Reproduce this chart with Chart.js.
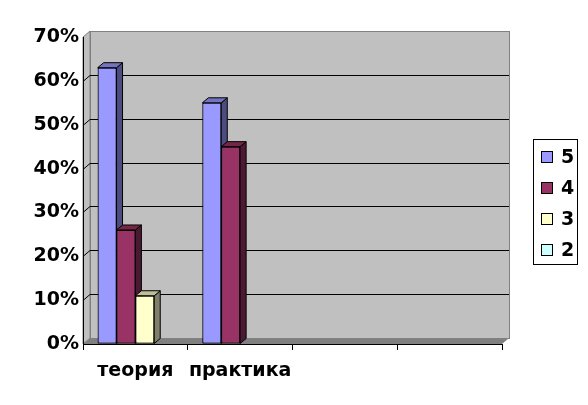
<!DOCTYPE html>
<html>
<head>
<meta charset="utf-8">
<script src="https://cdn.jsdelivr.net/npm/chart.js@4"></script>
<style>
  html, body { margin: 0; padding: 0; background: #fff; }
  #wrap { width: 588px; height: 405px; }
</style>
</head>
<body>
<div id="wrap"><canvas id="chart"></canvas></div>
<script>
const categories = ['теория', 'практика', '', ''];
const seriesNames = ['5', '4', '3', '2'];
const grade5 = [63, 55, 0, 0];
const grade4 = [26, 45, 0, 0];
const grade3 = [11, 0, 0, 0];
const grade2 = [0, 0, 0, 0];
const yMax = 70;
const yStep = 10;

const fronts = ['#9999FF', '#993366', '#FFFFCC', '#CCFFFF'];
const sides  = ['#4C4C80', '#4C1933', '#80806A', '#668080'];
const tops   = ['#7373BF', '#732646', '#BFBF99', '#99BFBF'];
const DX = 7, DY = 6;       // wall depth
const BX = 6, BY = 5;       // bar depth
const FONT = 'DejaVu Sans';

// grey walls, floor and back gridlines
const walls = {
  id: 'walls',
  beforeDraw(chart) {
    const { ctx, chartArea: a, scales: { y } } = chart;
    ctx.save();
    ctx.lineWidth = 1;
    // left wall
    ctx.fillStyle = '#C0C0C0';
    ctx.strokeStyle = '#808080';
    ctx.beginPath();
    ctx.moveTo(a.left, a.top); ctx.lineTo(a.left + DX, a.top - DY);
    ctx.lineTo(a.left + DX, a.bottom - DY); ctx.lineTo(a.left, a.bottom);
    ctx.closePath(); ctx.fill(); ctx.stroke();
    // back wall
    ctx.fillRect(a.left + DX, a.top - DY, a.right - a.left, a.bottom - a.top);
    ctx.strokeRect(a.left + DX + 0.5, a.top - DY + 0.5, a.right - a.left, a.bottom - a.top);
    // floor
    ctx.fillStyle = '#808080';
    ctx.beginPath();
    ctx.moveTo(a.left, a.bottom); ctx.lineTo(a.left + DX, a.bottom - DY);
    ctx.lineTo(a.right + DX, a.bottom - DY); ctx.lineTo(a.right, a.bottom);
    ctx.closePath(); ctx.fill();
    // gridlines
    ctx.strokeStyle = '#000';
    for (let v = yStep; v < yMax; v += yStep) {
      const py = Math.round(y.getPixelForValue(v)) + 0.5;
      ctx.beginPath();
      ctx.moveTo(a.left, py);
      ctx.lineTo(a.left + DX, py - DY);
      ctx.lineTo(a.right + DX, py - DY);
      ctx.stroke();
    }
    ctx.restore();
  }
};

// side and top faces of the bars
const bars3d = {
  id: 'bars3d',
  afterDatasetsDraw(chart) {
    const { ctx } = chart;
    ctx.save();
    ctx.lineWidth = 1;
    ctx.strokeStyle = '#000';
    categories.forEach((c, j) => {
      chart.data.datasets.forEach((ds, i) => {
        if (!(ds.data[j] > 0)) return;
        const bar = chart.getDatasetMeta(i).data[j];
        const { x, y, base, width } = bar.getProps(['x', 'y', 'base', 'width'], true);
        const l = x - width / 2, r = x + width / 2;
        ctx.fillStyle = sides[i];
        ctx.beginPath();
        ctx.moveTo(r, y); ctx.lineTo(r + BX, y - BY);
        ctx.lineTo(r + BX, base - BY); ctx.lineTo(r, base);
        ctx.closePath(); ctx.fill(); ctx.stroke();
        ctx.fillStyle = tops[i];
        ctx.beginPath();
        ctx.moveTo(l, y); ctx.lineTo(l + BX, y - BY);
        ctx.lineTo(r + BX, y - BY); ctx.lineTo(r, y);
        ctx.closePath(); ctx.fill(); ctx.stroke();
        bar.draw(ctx);
      });
    });
    ctx.restore();
  }
};

// boxed legend on the right
const legendBox = {
  id: 'legendBox',
  afterDraw(chart) {
    const { ctx } = chart;
    ctx.save();
    ctx.lineWidth = 1;
    ctx.strokeStyle = '#000';
    ctx.strokeRect(533.5, 139.5, 44, 125);
    ctx.font = 'bold 19px "' + FONT + '"';
    ctx.textBaseline = 'middle';
    ctx.fillStyle = '#000';
    seriesNames.forEach((name, i) => {
      const cy = 157 + i * 31;
      ctx.fillStyle = fronts[i];
      ctx.fillRect(541, cy - 6, 12, 12);
      ctx.strokeRect(541.5, cy - 5.5, 11, 11);
      ctx.fillStyle = '#000';
      ctx.fillText(name, 561, cy + 1);
    });
    ctx.restore();
  }
};

const seriesData = [grade5, grade4, grade3, grade2];

new Chart(document.getElementById('chart'), {
  type: 'bar',
  data: {
    labels: categories,
    datasets: seriesNames.map((name, i) => ({
      label: name,
      data: seriesData[i],
      backgroundColor: fronts[i],
      borderColor: '#000',
      borderWidth: c => (c.raw > 0 ? 1 : 0),
      borderSkipped: false,
      categoryPercentage: 0.72,
      barPercentage: 1
    }))
  },
  options: {
    responsive: true,
    maintainAspectRatio: false,
    animation: false,
    layout: { padding: { left: 0, top: 37, right: 86, bottom: 0 } },
    plugins: {
      legend: { display: false },
      tooltip: { enabled: false }
    },
    scales: {
      x: {
        offset: true,
        afterFit: s => { s.height = 61; },
        grid: { display: true, drawOnChartArea: false, color: '#000', tickLength: 6, offset: true },
        border: { display: true, color: '#000' },
        ticks: {
          color: '#000',
          font: { family: FONT, size: 19, weight: 'bold' },
          maxRotation: 0,
          autoSkip: false,
          padding: 10
        }
      },
      y: {
        min: 0,
        max: yMax,
        afterFit: s => { s.width = 83; },
        grid: { display: true, drawOnChartArea: false, drawTicks: false },
        border: { display: true, color: '#000' },
        ticks: {
          stepSize: yStep,
          color: '#000',
          padding: 4,
          font: { family: FONT, size: 19, weight: 'bold' },
          callback: v => v + '%'
        }
      }
    }
  },
  plugins: [walls, bars3d, legendBox]
});
</script>
</body>
</html>
